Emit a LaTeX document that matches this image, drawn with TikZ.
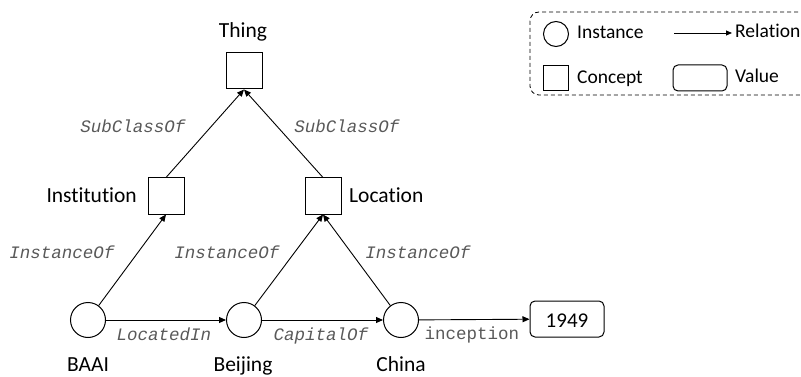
\documentclass[tikz,border=0pt]{standalone}
\usepackage{fontspec}
\setmainfont{Carlito}[Ligatures=CommonOff]
\setmonofont{Liberation Mono}
\usetikzlibrary{arrows.meta}

\tikzset{
  instnode/.style={draw, circle, minimum size=35pt, inner sep=0pt, line width=1pt},
  concnode/.style={draw, rectangle, minimum size=36pt, inner sep=0pt, line width=1pt},
  valnode/.style={draw, rectangle, rounded corners=5pt, minimum width=74pt, minimum height=36pt, inner sep=0pt, line width=1pt},
  entlbl/.style={anchor=base, inner sep=0pt, font=\fontsize{21.5}{24}\selectfont},
  legtext/.style={anchor=base west, inner sep=0pt, font=\fontsize{19.5}{22}\selectfont},
  rel/.style={anchor=base, inner sep=0pt, font=\fontsize{17.5}{20}\selectfont\ttfamily\itshape, text=black!65},
  attr/.style={anchor=base, inner sep=0pt, font=\fontsize{17.5}{20}\selectfont\ttfamily, text=black!65},
  link/.style={-{Triangle[length=7pt,width=6pt]}, line width=0.9pt},
}

\begin{document}
\begin{tikzpicture}[x=1pt, y=-1pt]
	\useasboundingbox (0,0) rectangle (801,377);
	% concepts
	\node[concnode] (thing) at (244,71) {};
	\node[concnode] (inst) at (166,196) {};
	\node[concnode] (loc) at (323,196) {};
	% instances and value
	\node[instnode] (baai) at (88,320) {};
	\node[instnode] (beijing) at (244,320) {};
	\node[instnode] (china) at (401,320) {};
	\node[valnode] (year) at (567,319) {};
	\node[entlbl, font=\fontsize{21}{24}\selectfont] (yearlbl) at (567,327) {1949};
	% names
	\node[entlbl] (thinglbl) at (243,38) {Thing};
	\node[entlbl, anchor=base east] (instlbl) at (137,203) {Institution};
	\node[entlbl, anchor=base west] (loclbl) at (349,203) {Location};
	\node[entlbl] (baailbl) at (88,371) {BAAI};
	\node[entlbl] (beijinglbl) at (243,371) {Beijing};
	\node[entlbl] (chinalbl) at (401,371) {China};
	% relations
	\draw[link] (inst.north) -- (thing.south);
	\draw[link] (loc.north) -- (thing.south);
	\draw[link] (baai) -- (inst.south);
	\draw[link] (beijing) -- (loc.south);
	\draw[link] (china) -- (loc.south);
	\draw[link] (baai) -- (beijing);
	\draw[link] (beijing) -- (china);
	\draw[link] (china) -- (year);
	\node[rel] (sub1) at (133,133) {SubClassOf};
	\node[rel] (sub2) at (347,133) {SubClassOf};
	\node[rel] (io1) at (62,258) {InstanceOf};
	\node[rel] (io2) at (227,258) {InstanceOf};
	\node[rel] (io3) at (418,258) {InstanceOf};
	\node[rel] (li) at (164,340) {LocatedIn};
	\node[rel] (co) at (321,340) {CapitalOf};
	\node[attr] (inc) at (472,339) {inception};
	% legend
	\draw[dashed, dash pattern=on 4pt off 3pt, rounded corners=9pt, line width=0.8pt] (530,12) rectangle (840,95);
	\node[instnode, minimum size=25pt] (leginst) at (556,34) {};
	\node[legtext] (leginstlbl) at (577,39) {Instance};
	\coordinate (legfrom) at (674,33);
	\coordinate (legto) at (732,33);
	\draw[-{Triangle[length=6pt,width=5pt]}, line width=0.8pt] (legfrom) -- (legto);
	\node[legtext] (legrel) at (735,38) {Relation};
	\node[concnode, minimum size=25pt] (legconc) at (556,78) {};
	\node[legtext] (legconclbl) at (577,84) {Concept};
	\node[valnode, minimum width=54pt, minimum height=26pt] (legval) at (700,78) {};
	\node[legtext] (legvallbl) at (735,83) {Value};
\end{tikzpicture}
\end{document}
